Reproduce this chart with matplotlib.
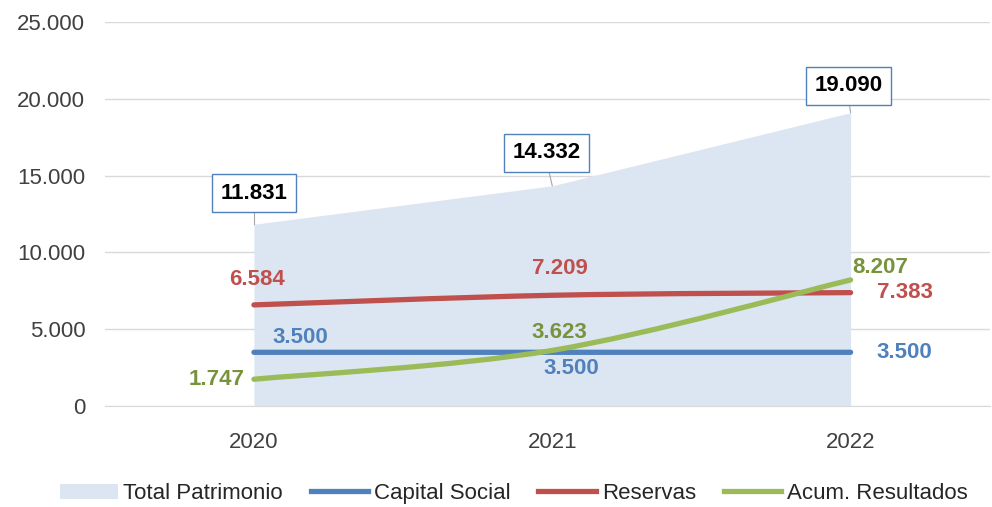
import numpy as np
import matplotlib.pyplot as plt
from matplotlib.path import Path
from matplotlib.patches import PathPatch
from matplotlib.lines import Line2D
from matplotlib.patches import Patch

years = ['2020', '2021', '2022']
total_patrimonio = [11831, 14332, 19090]
capital_social = [3500, 3500, 3500]
reservas = [6584, 7209, 7383]
acum_resultados = [1747, 3623, 8207]

c_area = '#DCE6F2'
c_blue = '#4F81BD'
c_red = '#C0504D'
c_green = '#9BBB59'
c_green_txt = '#77933C'


def fmt(v):
    return '{:,}'.format(v).replace(',', '.')


def smooth_path(xs, ys):
    # bezier through the points, like a smoothed excel line
    xs = np.asarray(xs, float)
    ys = np.asarray(ys, float)
    verts = [(xs[0], ys[0])]
    codes = [Path.MOVETO]
    n = len(xs)
    for i in range(n - 1):
        p0 = np.array([xs[max(i - 1, 0)], ys[max(i - 1, 0)]])
        p1 = np.array([xs[i], ys[i]])
        p2 = np.array([xs[i + 1], ys[i + 1]])
        p3 = np.array([xs[min(i + 2, n - 1)], ys[min(i + 2, n - 1)]])
        c1 = p1 + (p2 - p0) / 6.0
        c2 = p2 - (p3 - p1) / 6.0
        verts += [tuple(c1), tuple(c2), tuple(p2)]
        codes += [Path.CURVE4] * 3
    return Path(verts, codes)


plt.rcParams['font.family'] = ['Liberation Sans', 'DejaVu Sans']

fig = plt.figure(figsize=(9.92, 5.07), dpi=100)
ax = fig.add_axes([0.1056, 0.199, 0.892, 0.758])

x = np.arange(len(years))
ax.fill_between(x, 0, total_patrimonio, color=c_area, lw=0, zorder=1)

for vals, col in [(capital_social, c_blue), (reservas, c_red), (acum_resultados, c_green)]:
    ax.add_patch(PathPatch(smooth_path(x, vals), facecolor='none', edgecolor=col,
                           lw=3.8, capstyle='round', zorder=3))

ax.set_xlim(-0.5, 2.466)
ax.set_ylim(0, 25000)
ax.set_yticks(np.arange(0, 25001, 5000))
ax.set_yticklabels([fmt(v) for v in range(0, 25001, 5000)])
ax.set_xticks(x)
ax.set_xticklabels(years)
ax.grid(axis='y', color='#D9D9D9', lw=1, zorder=0)
ax.set_axisbelow(True)
for s in ['top', 'right', 'left']:
    ax.spines[s].set_visible(False)
ax.spines['bottom'].set_color('#D9D9D9')
ax.tick_params(axis='both', length=0, labelsize=16, colors='#404040')
ax.tick_params(axis='y', pad=14)
ax.tick_params(axis='x', pad=19)

# boxed total labels with leader lines
box_off = [2020, 2150, 1760]
box_dx = [0.0, -0.02, -0.007]
for i, v in enumerate(total_patrimonio):
    ty = v + box_off[i]
    ax.plot([i, i + box_dx[i] * 0.5], [v, ty - 1300], color='#A6A6A6', lw=0.8, zorder=2)
    ax.text(i + box_dx[i], ty, fmt(v), ha='center', va='center', fontsize=16,
            fontweight='bold', color='black', zorder=5,
            bbox=dict(boxstyle='square,pad=0.38', fc='white', ec=c_blue, lw=1))

lab_kw = dict(fontsize=16, fontweight='bold', zorder=6, va='center')
# reservas
ax.text(0.01, reservas[0] + 1630, fmt(reservas[0]), color=c_red, ha='center', **lab_kw)
ax.text(1.025, reservas[1] + 1760, fmt(reservas[1]), color=c_red, ha='center', **lab_kw)
ax.text(2.087, reservas[2], fmt(reservas[2]), color=c_red, ha='left', **lab_kw)
# capital social
ax.text(0.154, capital_social[0] + 980, fmt(capital_social[0]), color=c_blue, ha='center', **lab_kw)
ax.text(1.065, capital_social[1] - 1040, fmt(capital_social[1]), color=c_blue, ha='center', **lab_kw)
ax.text(2.087, capital_social[2], fmt(capital_social[2]), color=c_blue, ha='left', **lab_kw)
# acum resultados
ax.text(-0.03, acum_resultados[0], fmt(acum_resultados[0]), color=c_green_txt, ha='right', **lab_kw)
ax.text(1.025, acum_resultados[1] + 1170, fmt(acum_resultados[1]), color=c_green_txt, ha='center', **lab_kw)
ax.text(2.007, acum_resultados[2] + 780, fmt(acum_resultados[2]), color=c_green_txt, ha='left', **lab_kw)

handles = [Patch(facecolor=c_area, edgecolor='none'),
           Line2D([], [], color=c_blue, lw=3.8),
           Line2D([], [], color=c_red, lw=3.8),
           Line2D([], [], color=c_green, lw=3.8)]
names = ['Total Patrimonio', 'Capital Social', 'Reservas', 'Acum. Resultados']
fig.legend(handles, names, loc='lower center', bbox_to_anchor=(0.518, -0.034), ncol=4,
           frameon=False, fontsize=16, handlelength=2.6, handletextpad=0.25,
           columnspacing=1.25, labelcolor='#262626')

fig.savefig('out.png', dpi=100)
